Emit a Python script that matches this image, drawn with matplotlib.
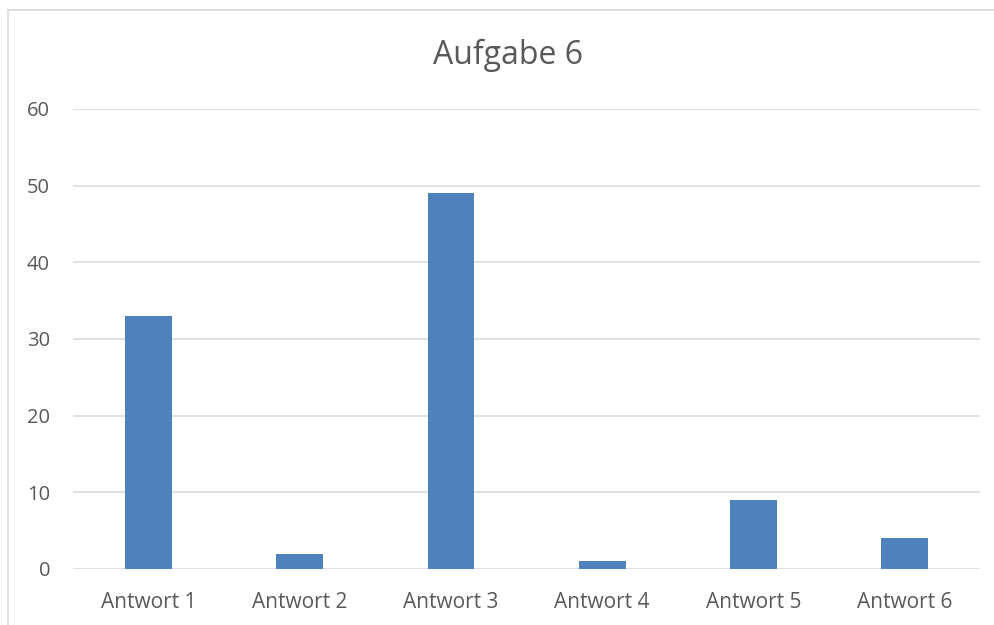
import matplotlib.pyplot as plt
from matplotlib.lines import Line2D

# data
categories = ['Antwort 1', 'Antwort 2', 'Antwort 3', 'Antwort 4', 'Antwort 5', 'Antwort 6']
counts = [33, 2, 49, 1, 9, 4]
y_ticks = [0, 10, 20, 30, 40, 50, 60]

plt.rcParams['font.family'] = ['Open Sans', 'DejaVu Sans']
text_color = '#595959'
grid_color = '#D9D9D9'

fig = plt.figure(figsize=(9.95, 6.25), dpi=100)
ax = fig.add_axes([0.0734, 0.0896, 0.9116, 0.736])

x = list(range(len(categories)))
ax.bar(x, counts, width=0.31, color='#4F81BD', zorder=3)

ax.set_xlim(-0.5, len(categories) - 0.5)
ax.set_ylim(0, 60)
ax.set_yticks(y_ticks)
ax.set_xticks(x)
ax.set_xticklabels(categories)
ax.tick_params(axis='both', length=0, colors=text_color)
ax.tick_params(axis='x', labelsize=15, pad=16.5)
ax.tick_params(axis='y', labelsize=14.5, pad=16.5)

ax.grid(axis='y', color=grid_color, linewidth=1.1, zorder=0)
for s in ax.spines.values():
    s.set_visible(False)

# title is centred on the whole chart, not the plot area
fig.text(508 / 995, 1 - 55 / 625, 'Aufgabe 6', fontsize=23, color=text_color,
         ha='center', va='center')

# light chart border (left and top visible)
fig.add_artist(Line2D([0.0085, 0.0085], [0, 0.984], transform=fig.transFigure,
                      color=grid_color, linewidth=1.2))
fig.add_artist(Line2D([0.0085, 1.0], [0.984, 0.984], transform=fig.transFigure,
                      color=grid_color, linewidth=1.2))

fig.savefig('out.png', dpi=100)
